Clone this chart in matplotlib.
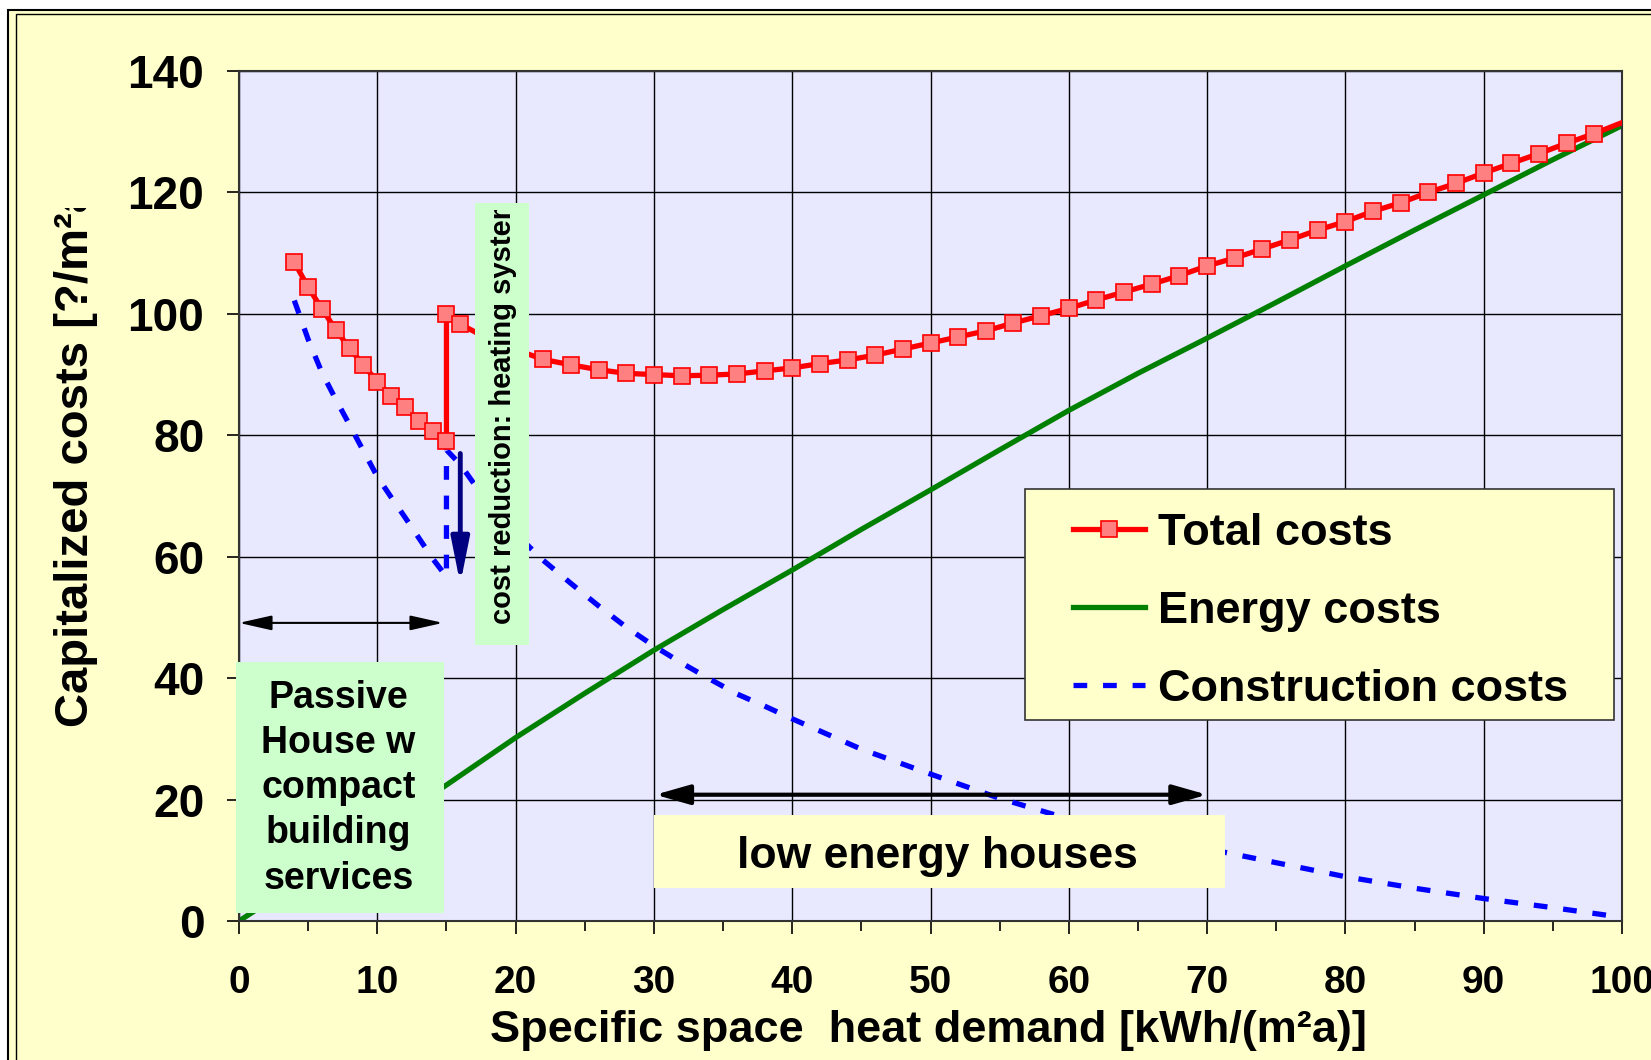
import matplotlib
matplotlib.use('Agg')
import matplotlib.pyplot as plt
from matplotlib import font_manager
from matplotlib.patches import Rectangle
from matplotlib.ticker import MultipleLocator

# values (x = specific space heat demand, y = capitalized costs)
total_x = [4, 5, 6, 7, 8, 9, 10, 11, 12, 13, 14, 15,
           15, 16, 18, 20, 22, 24, 26, 28, 30, 32, 34, 36, 38, 40, 42, 44, 46, 48,
           50, 52, 54, 56, 58, 60, 62, 64, 66, 68, 70, 72, 74, 76, 78, 80, 82, 84,
           86, 88, 90, 92, 94, 96, 98, 100]
total_y = [108.5, 104.4, 100.8, 97.4, 94.3, 91.6, 88.8, 86.5, 84.6, 82.4, 80.7, 79.1,
           99.9, 98.3, 95.9, 94.1, 92.5, 91.6, 90.8, 90.2, 90.0, 89.8, 89.9, 90.1, 90.6,
           91.1, 91.8, 92.4, 93.2, 94.2, 95.2, 96.2, 97.2, 98.5, 99.7, 100.9, 102.3,
           103.6, 104.9, 106.3, 107.9, 109.2, 110.7, 112.2, 113.8, 115.2, 116.9, 118.3,
           120.0, 121.5, 123.2, 124.8, 126.4, 128.1, 129.7, 131.5]

energy_x = [0, 5, 10, 15, 20, 25, 30, 35, 40, 45, 50, 55, 60, 65, 70, 75, 80, 85, 90, 95, 100]
energy_y = [0, 7.4, 14.8, 22.4, 30.2, 37.5, 44.6, 51.3, 57.8, 64.5, 71.0, 77.6, 84.1,
            90.2, 96.0, 101.9, 107.9, 113.8, 119.6, 125.4, 131.0]

constr_x = [4, 5, 6, 7, 8, 9, 10, 11, 12, 13, 14, 15,
            15, 16, 18, 20, 22, 24, 26, 28, 30, 32, 34, 36, 38, 40,
            45, 50, 55, 60, 65, 70, 75, 80, 85, 90, 95, 100]
constr_y = [102.2, 95.8, 90.3, 85.9, 81.7, 77.4, 73.2, 69.8, 66.5, 63.1, 59.7, 56.7,
            77.6, 75.2, 68.8, 63.8, 59.4, 55.6, 51.9, 48.4, 45.3, 42.5, 39.9, 37.4, 35.4,
            33.3, 28.3, 24.2, 20.2, 16.8, 14.4, 11.9, 9.6, 7.3, 5.4, 3.7, 2.2, 0.6]

labels = ['Total costs', 'Energy costs', 'Construction costs']
passive_text = 'Passive\nHouse w\ncompact\nbuilding\nservices'
reduction_text = 'cost reduction: heating system'
low_energy_text = 'low energy houses'
xlabel = 'Specific space  heat demand [kWh/(m\u00b2a)]'
ylabel = 'Capitalized costs [?/m\u00b2a]'

plt.rcParams['font.family'] = 'Liberation Sans'
plt.rcParams['font.weight'] = 'bold'

W, H = 1651, 1060
fig = plt.figure(figsize=(W / 100, H / 100), dpi=100, facecolor='white')

# yellow background with the double frame (only top/left edges are visible)
fig.add_artist(Rectangle((8 / W, -0.05), 2, 1 - 10 / H + 0.05, transform=fig.transFigure,
                         fc='#FFFFCC', ec='black', lw=1.5, zorder=-2))
fig.add_artist(Rectangle((16 / W, -0.05), 2, 1 - 14 / H + 0.05, transform=fig.transFigure,
                         fc='none', ec='black', lw=1.0, zorder=-1))

ax = fig.add_axes([239 / W, 1 - 921 / H, (1622 - 239) / W, (921 - 71) / H])
ax.set_facecolor('#E8E8FF')

ax.plot(total_x, total_y, color='red', lw=3.8, marker='s', markersize=11.5,
        markerfacecolor='#FF8080', markeredgecolor='red', markeredgewidth=1.2,
        markevery=list(range(len(total_x) - 1)), label=labels[0], zorder=3)
ax.plot(energy_x, energy_y, color='#008000', lw=3.8, label=labels[1], zorder=2)
ax.plot(constr_x, constr_y, color='blue', lw=3.8, dashes=(2.6, 3.0),
        label=labels[2], zorder=2)

ax.set_xlim(0, 100)
ax.set_ylim(0, 140)
ax.xaxis.set_major_locator(MultipleLocator(10))
ax.xaxis.set_minor_locator(MultipleLocator(5))
ax.yaxis.set_major_locator(MultipleLocator(20))
ax.grid(True, which='major', color='black', lw=1.0)
ax.set_axisbelow(True)
for s in ax.spines.values():
    s.set_color('#333333')
    s.set_linewidth(1.5)
ax.tick_params(axis='x', which='major', length=9, width=1.2, pad=23, labelsize=28)
ax.tick_params(axis='x', which='minor', length=7, width=1.2)
ax.tick_params(axis='y', which='major', length=9, width=1.2, pad=16, labelsize=33)

# annotation boxes
ax.add_patch(Rectangle((-0.2, 1.4), 15.0, 41.3, fc='#CCFFCC', ec='none', zorder=4, clip_on=False))
ax.text(7.2, 21.9, passive_text, ha='center', va='center', fontsize=27,
        linespacing=1.33, zorder=5)

ax.add_patch(Rectangle((17.1, 45.5), 3.9, 72.8, fc='#CCFFCC', ec='none', zorder=4))
t = ax.text(19.1, 48.9, reduction_text, rotation=90, ha='center', va='bottom',
            fontsize=21, zorder=5, clip_on=True)
t.set_clip_path(Rectangle((17.1, 45.5), 3.9, 71.6, transform=ax.transData))

ax.add_patch(Rectangle((30.0, 5.4), 41.3, 12.1, fc='#FFFFCC', ec='none', zorder=4))
ax.text(50.5, 8.7, low_energy_text, ha='center', va='baseline', fontsize=32, zorder=5)

# arrows
ax.annotate('', xy=(0, 49.1), xytext=(14.75, 49.1),
            arrowprops=dict(arrowstyle='<|-|>,head_length=20,head_width=4.5',
                            mutation_scale=1, color='black', lw=1.5,
                            shrinkA=0, shrinkB=0), zorder=5)
ax.annotate('', xy=(30.1, 20.8), xytext=(70.0, 20.8),
            arrowprops=dict(arrowstyle='<|-|>,head_length=21,head_width=6',
                            mutation_scale=1, color='black', lw=3.0,
                            shrinkA=0, shrinkB=0), zorder=5)
ax.annotate('', xy=(16.0, 55.5), xytext=(16.0, 77.0),
            arrowprops=dict(arrowstyle='-|>,head_length=27,head_width=5.4',
                            mutation_scale=1, color='#000080', lw=3.5,
                            shrinkA=0, shrinkB=0), zorder=5)

# legend on its own yellow box
ax.add_patch(Rectangle((1025 / W, 1 - 720 / H), 589 / W, 231 / H, transform=fig.transFigure,
                       fc='#FFFFCC', ec='#333333', lw=1.2, zorder=6, clip_on=False))
leg_fs = 32.5
fs_px = leg_fs * 100 / 72
leg = ax.legend(loc='upper left', bbox_to_anchor=(1072.6 / W, 1 - 512.7 / H),
                bbox_transform=fig.transFigure, frameon=False, borderpad=0, borderaxespad=0,
                prop=font_manager.FontProperties(family='Liberation Sans', weight='bold',
                                                 size=leg_fs),
                handlelength=72 / fs_px, handletextpad=13 / fs_px,
                labelspacing=0.825, numpoints=1)
leg.set_zorder(7)

# axis titles
fig.text(928 / W, 1 - 1042 / H, xlabel, ha='center', va='baseline', fontsize=32.5)
yl = fig.text(76 / W, 1 - 727 / H, ylabel, rotation=90, ha='center', va='bottom', fontsize=34)
yl.set_clip_path(Rectangle((0, 0), 1, 1 - 208 / H, transform=fig.transFigure))

fig.savefig('out.png', dpi=100, facecolor=fig.get_facecolor())
